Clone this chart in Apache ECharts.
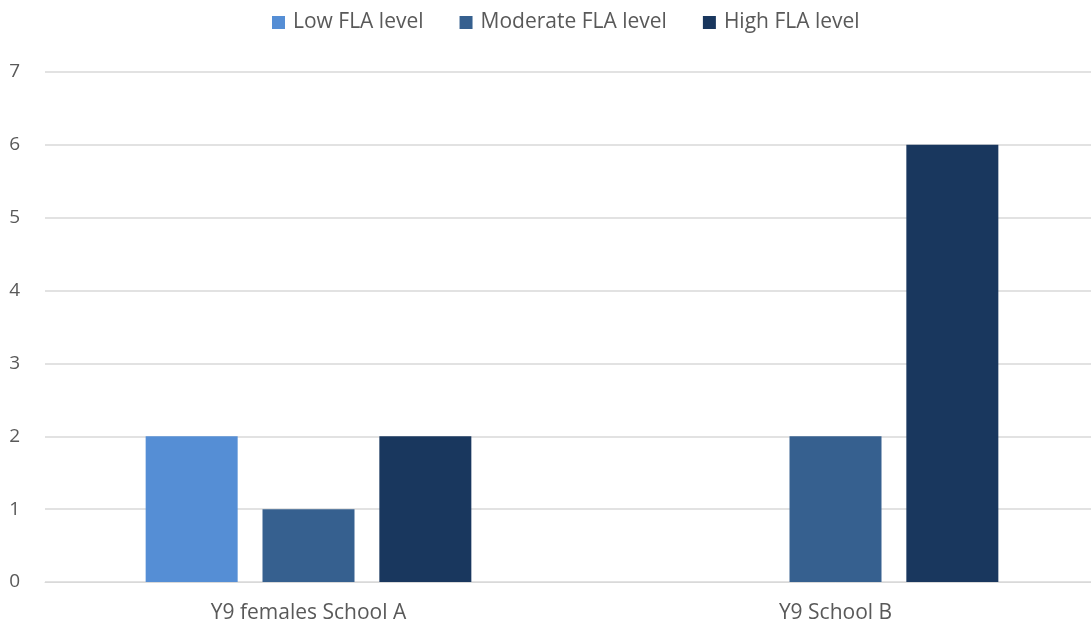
<!DOCTYPE html>
<html>
<head>
<meta charset="utf-8">
<script src="https://cdn.jsdelivr.net/npm/echarts@6/dist/echarts.min.js"></script>
<style>
  html, body { margin: 0; padding: 0; background: #ffffff; overflow: hidden; }
  #chart { width: 1100px; height: 625px; }
</style>
</head>
<body>
<div id="chart"></div>
<script>
// Groups along the x axis
const categories = ['Y9 females School A', 'Y9 School B'];

// Counts per FLA level
const seriesNames = ['Low FLA level', 'Moderate FLA level', 'High FLA level'];
const lowValues = [2, 0];
const moderateValues = [1, 2];
const highValues = [2, 6];

const seriesColors = ['#558ed5', '#36608f', '#19375e'];
const yTicks = [0, 1, 2, 3, 4, 5, 6, 7];

const textColor = '#595959';
const fontFamily = '"Open Sans", "Liberation Sans", sans-serif';

const chart = echarts.init(document.getElementById('chart'), null, { renderer: 'canvas' });

const valueSets = [lowValues, moderateValues, highValues];

chart.setOption({
  animation: false,
  backgroundColor: '#ffffff',
  legend: {
    top: 7,
    left: 267,
    itemWidth: 13,
    itemHeight: 13,
    itemGap: 36,
    icon: 'rect',
    textStyle: { color: textColor, fontSize: 21, fontFamily: fontFamily, padding: [0, 0, 0, 3] },
    data: seriesNames
  },
  grid: {
    left: 45,
    right: 1,
    top: 72,
    bottom: 43,
    containLabel: false
  },
  xAxis: {
    type: 'category',
    data: categories,
    axisLine: { show: true, lineStyle: { color: '#d9d9d9', width: 1 } },
    axisTick: { show: false },
    axisLabel: { color: textColor, fontSize: 21, fontFamily: fontFamily, margin: 21 }
  },
  yAxis: {
    type: 'value',
    min: yTicks[0],
    max: yTicks[yTicks.length - 1],
    interval: 1,
    axisLine: { show: false },
    axisTick: { show: false },
    splitLine: { lineStyle: { color: '#d9d9d9', width: 1.5 } },
    axisLabel: { color: textColor, fontSize: 19, fontFamily: fontFamily, margin: 25 }
  },
  series: seriesNames.map((name, i) => ({
    name: name,
    type: 'bar',
    data: valueSets[i],
    barWidth: 92,
    barGap: '27%',
    itemStyle: { color: seriesColors[i] }
  }))
});
</script>
</body>
</html>
